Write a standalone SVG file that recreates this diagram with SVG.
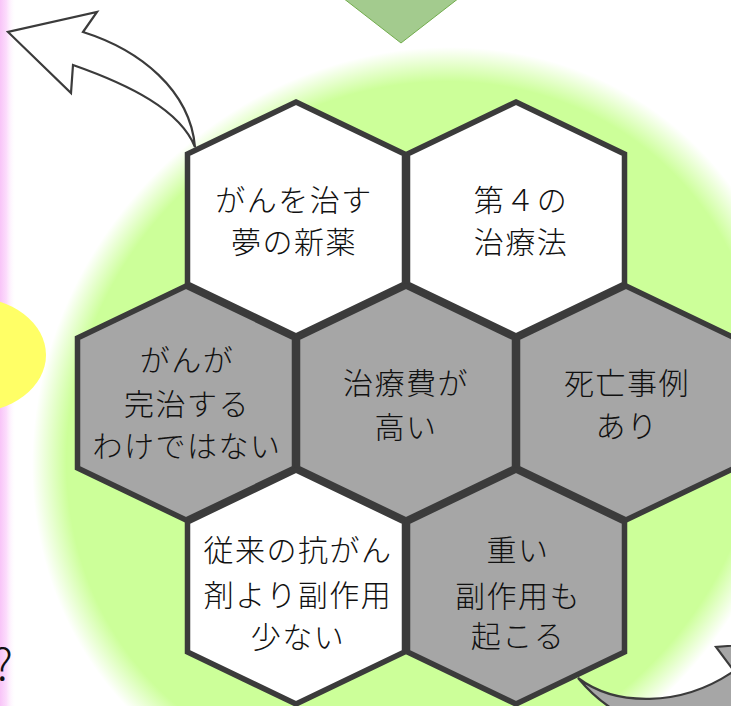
<svg xmlns="http://www.w3.org/2000/svg" width="731" height="706" viewBox="0 0 731 706">
  <style>
    .hex { stroke: #3b3b3b; stroke-width: 5.5; stroke-linejoin: miter; }
    .w { fill: #ffffff; }
    .g { fill: #a6a6a6; }
    .t { font-family: "Noto Sans CJK JP", "Noto Sans", sans-serif; font-weight: 300; font-size: 30px; letter-spacing: 1.5px; fill: #111111; text-anchor: middle; }
    .arrow { stroke: #3b3b3b; stroke-width: 2.2; stroke-linejoin: miter; }
  </style>
  <defs>
    <radialGradient id="bgGlow" cx="0.5" cy="0.5" r="0.5">
      <stop offset="0" stop-color="#ccff99"/>
      <stop offset="0.91" stop-color="#ccff99"/>
      <stop offset="1" stop-color="#ccff99" stop-opacity="0"/>
    </radialGradient>
    <linearGradient id="pinkEdge" x1="0" y1="0" x2="1" y2="0">
      <stop offset="0" stop-color="#f8c4f8"/>
      <stop offset="0.4" stop-color="#fcdcfc"/>
      <stop offset="1" stop-color="#ffffff" stop-opacity="0"/>
    </linearGradient>
    <polygon id="hexShape" points="0,-117 108.5,-65 108.5,65 0,117 -108.5,65 -108.5,-65"/>
  </defs>

  <rect x="0" y="0" width="731" height="706" fill="#ffffff"/>
  <rect x="0" y="0" width="16" height="706" fill="url(#pinkEdge)"/>
  <ellipse cx="0" cy="0" rx="400" ry="365" transform="translate(415 430) rotate(-45)" fill="url(#bgGlow)"/>
  <ellipse cx="-30" cy="355" rx="76" ry="58" fill="#ffff66"/>
  <polygon points="343,-2 459,-2 401,43" fill="#a3cb8e" stroke="#72ac4d" stroke-width="1"/>
  <text x="-7" y="680" font-family="'Noto Sans CJK JP', 'Noto Sans', sans-serif" font-weight="300" font-size="44" fill="#111111">?</text>

  <g id="connectors">
    <path class="arrow" fill="#ffffff" d="M 195 147 C 190 90, 140 50, 83 32 L 97 12 L 8 32 L 71 93 L 73 65 C 130 85, 180 110, 195 147 Z"/>
    <path class="arrow" fill="#a6a6a6" d="M 578 678 C 615 706, 680 708, 734 671 L 716 647 L 800 640 L 790 720 L 760 700 C 700 740, 630 740, 578 678 Z"/>
  </g>

  <g id="node-dream-drug">
    <use href="#hexShape" class="hex w" x="296" y="219"/>
    <text class="t" x="294" y="211">がんを治す</text>
    <text class="t" x="294" y="253">夢の新薬</text>
  </g>
  <g id="node-fourth-therapy">
    <use href="#hexShape" class="hex w" x="516" y="219"/>
    <text class="t" x="521" y="211">第４の</text>
    <text class="t" x="521" y="253">治療法</text>
  </g>
  <g id="node-not-cure">
    <use href="#hexShape" class="hex g" x="186" y="403"/>
    <text class="t" x="187" y="371">がんが</text>
    <text class="t" x="187" y="415">完治する</text>
    <text class="t" x="187" y="457">わけではない</text>
  </g>
  <g id="node-high-cost">
    <use href="#hexShape" class="hex g" x="406" y="403"/>
    <text class="t" x="406" y="394">治療費が</text>
    <text class="t" x="406" y="438">高い</text>
  </g>
  <g id="node-deaths">
    <use href="#hexShape" class="hex g" x="626" y="403"/>
    <text class="t" x="627" y="394">死亡事例</text>
    <text class="t" x="627" y="437">あり</text>
  </g>
  <g id="node-fewer-side-effects">
    <use href="#hexShape" class="hex w" x="296" y="587"/>
    <text class="t" x="298" y="561">従来の抗がん</text>
    <text class="t" x="298" y="606">剤より副作用</text>
    <text class="t" x="298" y="648">少ない</text>
  </g>
  <g id="node-severe-side-effects">
    <use href="#hexShape" class="hex g" x="516" y="587"/>
    <text class="t" x="518" y="561">重い</text>
    <text class="t" x="518" y="607">副作用も</text>
    <text class="t" x="518" y="647">起こる</text>
  </g>
</svg>
